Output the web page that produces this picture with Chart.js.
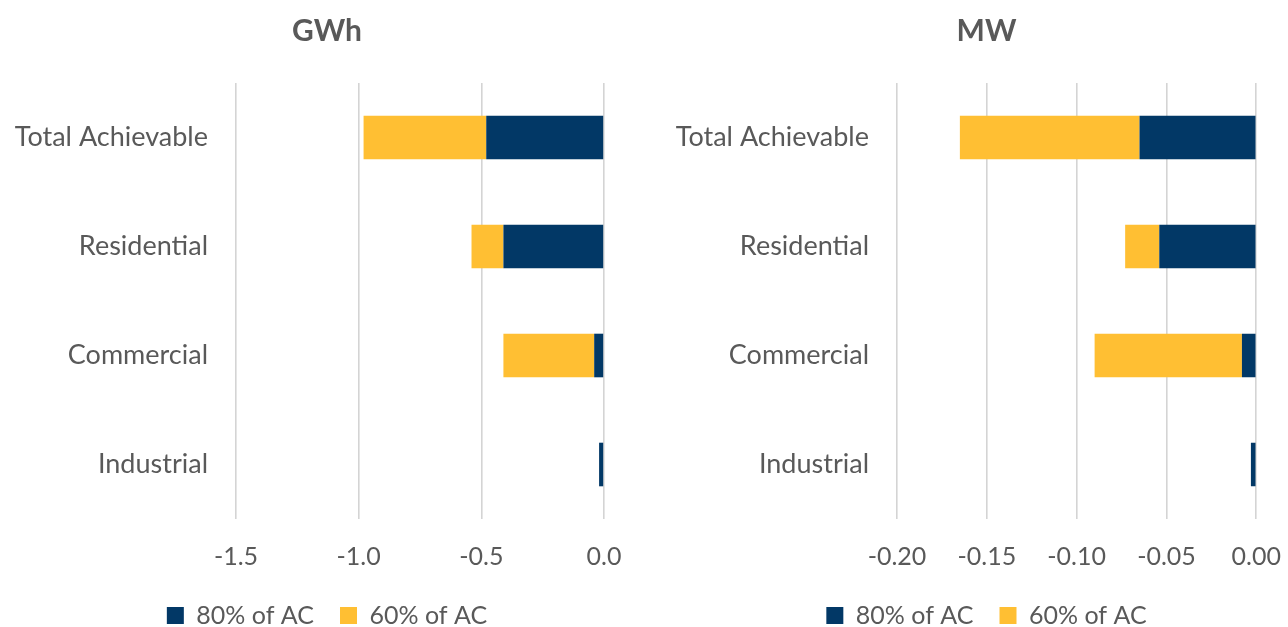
<!DOCTYPE html>
<html>
<head>
<meta charset="utf-8">
<script src="https://cdn.jsdelivr.net/npm/chart.js@4"></script>
<style>
    body { margin: 0; background: #fff; overflow: hidden; width: 1288px; height: 627px; position: relative; }
    canvas { position: absolute; top: 0; }
    #gwhChart { left: 0px; }
    #mwChart { left: 660px; }
</style>
</head>
<body>
<canvas id="gwhChart" width="654" height="638"></canvas>
<canvas id="mwChart" width="644" height="638"></canvas>
<script>
const sectors = ['Total Achievable', 'Residential', 'Commercial', 'Industrial'];
const seriesNames = ['80% of AC', '60% of AC'];

// GWh
const gwh80 = [-0.48, -0.41, -0.04, -0.02];
const gwh60 = [-0.50, -0.13, -0.37, 0];
const gwhTicks = [-1.5, -1.0, -0.5, 0.0];

// MW
const mw80 = [-0.065, -0.054, -0.008, -0.003];
const mw60 = [-0.100, -0.019, -0.082, 0];
const mwTicks = [-0.20, -0.15, -0.10, -0.05, 0.00];

const navy = '#023866';
const yellow = '#FFBF33';
const textGrey = '#595959';
const fontName = 'Lato';

// title + legend are centred over the whole canvas, nudge them sideways
const shiftBoxes = {
    id: 'shiftBoxes',
    afterLayout(chart, args, opts) {
        [chart.titleBlock, chart.legend].forEach(box => {
            if (box) {
                box.left += opts.dx;
                box.right += opts.dx;
            }
        });
    }
};

function makeChart(canvasId, title, d80, d60, ticks, decimals, padR, axisW, dx) {
    const step = ticks[1] - ticks[0];
    return new Chart(document.getElementById(canvasId), {
        type: 'bar',
        data: {
            labels: sectors,
            datasets: [
                { label: seriesNames[0], data: d80, backgroundColor: navy, borderWidth: 0 },
                { label: seriesNames[1], data: d60, backgroundColor: yellow, borderWidth: 0 }
            ]
        },
        plugins: [shiftBoxes],
        options: {
            indexAxis: 'y',
            responsive: false,
            animation: false,
            layout: { padding: { left: 0, right: padR, top: 0, bottom: 0 } },
            datasets: { bar: { barPercentage: 0.4, categoryPercentage: 1 } },
            plugins: {
                shiftBoxes: { dx: dx },
                title: {
                    display: true,
                    text: title,
                    color: textGrey,
                    font: { family: fontName, size: 30, weight: 'bold' },
                    padding: { top: 13, bottom: 34 }
                },
                legend: {
                    position: 'bottom',
                    labels: {
                        color: textGrey,
                        font: { family: fontName, size: 25 },
                        boxWidth: 17,
                        boxHeight: 17,
                        padding: 26
                    }
                },
                tooltip: { enabled: false }
            },
            scales: {
                x: {
                    stacked: true,
                    min: ticks[0],
                    max: ticks[ticks.length - 1],
                    border: { display: false },
                    grid: { color: '#d4d4d4', lineWidth: 1.6, drawTicks: false },
                    ticks: {
                        stepSize: step,
                        color: textGrey,
                        padding: 23,
                        font: { family: fontName, size: 25 },
                        callback: v => Number(v).toFixed(decimals)
                    },
                    afterFit: scale => { scale.height = 58; }
                },
                y: {
                    stacked: true,
                    border: { display: false },
                    grid: { display: false, drawTicks: false },
                    ticks: {
                        color: textGrey,
                        padding: 28,
                        font: { family: fontName, size: 27 }
                    },
                    afterFit: scale => { scale.width = axisW; }
                }
            }
        }
    });
}

makeChart('gwhChart', 'GWh', gwh80, gwh60, gwhTicks, 1, 50, 236, 25);
makeChart('mwChart', 'MW', mw80, mw60, mwTicks, 2, 47, 237, 28);
</script>
</body>
</html>
